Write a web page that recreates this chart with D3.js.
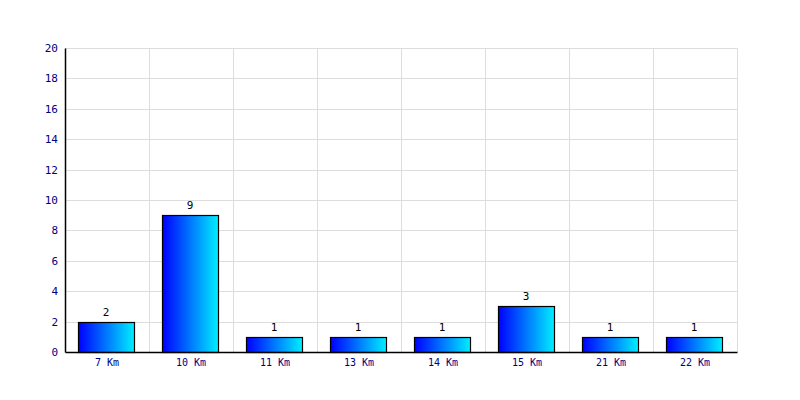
<!DOCTYPE html>
<html><head><meta charset="utf-8">
<script src="https://cdn.jsdelivr.net/npm/d3@7"></script>
<style>body{margin:0;background:#fff}</style>
</head><body>
<svg id="c" width="800" height="400"></svg>
<script>
const categories = ["7 Km","10 Km","11 Km","13 Km","14 Km","15 Km","21 Km","22 Km"];
const values = [2,9,1,1,1,3,1,1];
const yTicks = [0,2,4,6,8,10,12,14,16,18,20];

const svg = d3.select("#c");
const m = {l:65, r:63, t:48, b:48};
const W = 800, H = 400;
const x = d3.scaleBand().domain(categories).range([m.l, W-m.r]).paddingInner(0.333).paddingOuter(0.1665);
const xb = d3.scaleBand().domain(categories).range([m.l, W-m.r]);
const y = d3.scaleLinear().domain([0,20]).range([H-m.b, m.t]);

const defs = svg.append("defs");
const g = defs.append("linearGradient").attr("id","grad").attr("x1","0").attr("x2","1").attr("y1","0").attr("y2","0");
g.append("stop").attr("offset","0").attr("stop-color","#0000ff");
g.append("stop").attr("offset","1").attr("stop-color","#00f0ff");

// grid
svg.append("g").selectAll("line").data(yTicks.filter(d=>d>0)).join("line")
  .attr("x1",m.l).attr("x2",W-m.r).attr("y1",d=>Math.round(y(d))+0.5).attr("y2",d=>Math.round(y(d))+0.5)
  .attr("stroke","#dddddd");
svg.append("g").selectAll("line").data(categories).join("line")
  .attr("x1",d=>Math.round(xb(d)+xb.bandwidth())+0.5).attr("x2",d=>Math.round(xb(d)+xb.bandwidth())+0.5)
  .attr("y1",m.t).attr("y2",H-m.b).attr("stroke","#dddddd");

// bars
svg.append("g").selectAll("rect").data(values).join("rect")
  .attr("x",(d,i)=>Math.round(x(categories[i]))-0.5)
  .attr("width",Math.round(x.bandwidth()))
  .attr("y",d=>Math.round(y(d))+0.5)
  .attr("height",d=>Math.round(y(0))-Math.round(y(d)))
  .attr("fill","url(#grad)").attr("stroke","#000").attr("stroke-width",1.2);

// value labels
svg.append("g").selectAll("text").data(values).join("text")
  .attr("x",(d,i)=>x(categories[i])+x.bandwidth()/2-1)
  .attr("y",d=>y(d)-6)
  .attr("text-anchor","middle")
  .attr("font-family","DejaVu Sans Mono, monospace").attr("font-size",11)
  .attr("fill","#000").text(d=>d);

// axes
const ya = svg.append("g").attr("transform",`translate(${m.l},0)`)
  .call(d3.axisLeft(y).tickValues(yTicks).tickSize(0).tickPadding(7));
ya.select(".domain").attr("stroke","#000").attr("stroke-width",1.5);
ya.selectAll("text").attr("font-family","DejaVu Sans Mono, monospace").attr("font-size",11).attr("fill","#000080");

const xa = svg.append("g").attr("transform",`translate(0,${H-m.b})`)
  .call(d3.axisBottom(xb).tickSize(0).tickPadding(7));
xa.select(".domain").attr("stroke","#000").attr("stroke-width",1.5);
xa.selectAll("text").attr("font-family","DejaVu Sans Mono, monospace").attr("font-size",10).attr("fill","#000080");
</script>
</body></html>
